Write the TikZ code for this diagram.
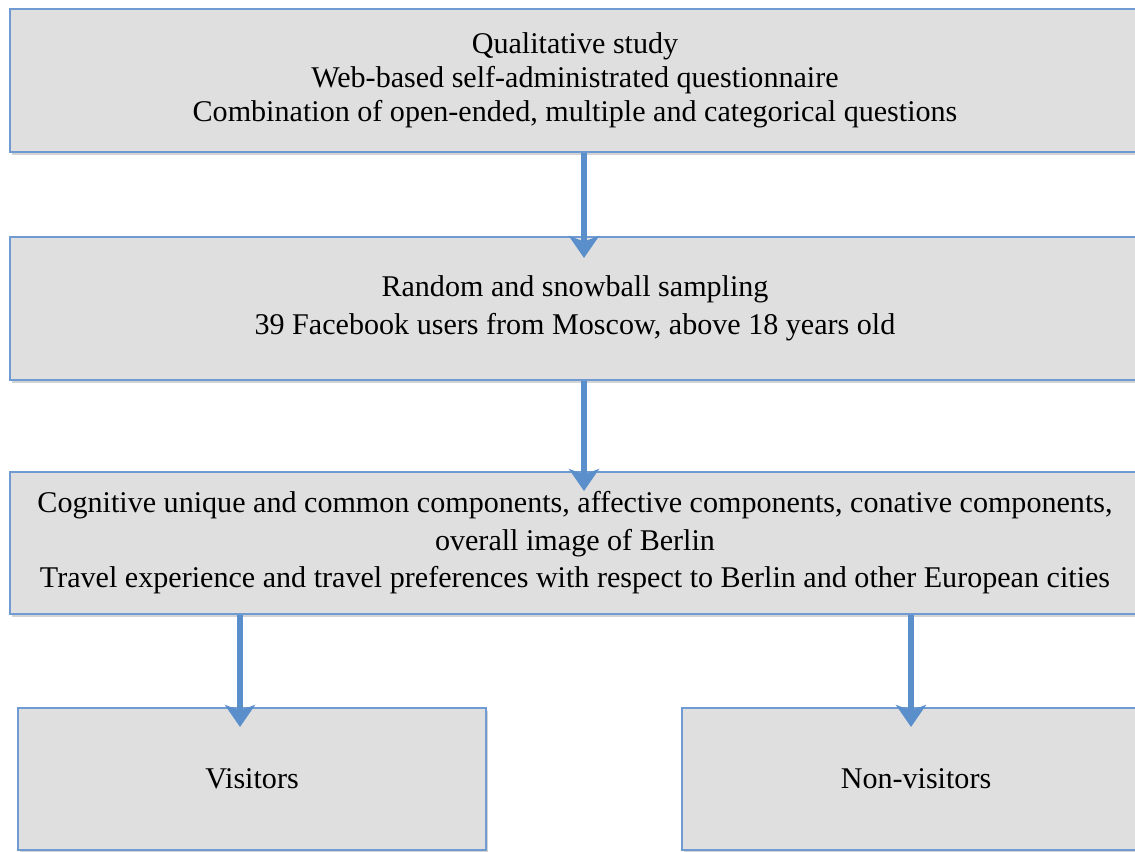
\documentclass[tikz,border=0pt]{standalone}
\usepackage{fontspec}
\setmainfont{Liberation Serif}
\usetikzlibrary{arrows.meta,shadows}
\definecolor{boxfill}{HTML}{DFDFDF}
\definecolor{boxline}{HTML}{6F9BD2}
\definecolor{arrowblue}{HTML}{5B8FCB}
\tikzset{
  flowbox/.style={draw=boxline, line width=1.3pt, fill=boxfill, align=center,
    inner sep=0pt, drop shadow={opacity=0.35, shadow xshift=1.2pt, shadow yshift=-2pt}},
  flowarrow/.style={draw=arrowblue, line width=4.6pt,
    -{Stealth[length=0.55cm, width=0.75cm, inset=0.14cm]}},
  boxtext/.style={font=\fontsize{21.4}{26.6}\selectfont},
  boxtextA/.style={font=\fontsize{21.4}{24.0}\selectfont}
}
\begin{document}
\begin{tikzpicture}[x=0.025cm, y=-0.025cm]
\useasboundingbox (0,0) rectangle (1135,852);
\begin{scope}
\clip (0,0) rectangle (1135,852);
\node[flowbox, boxtextA, minimum width=28.25cm, minimum height=3.575cm] (b1) at (575,80.5)
  {Qualitative study\\Web-based self-administrated questionnaire\\Combination of open-ended, multiple and categorical questions};
\node[flowbox, boxtext, minimum width=28.25cm, minimum height=3.575cm] (b2) at (575,308.5)
  {Random and snowball sampling\\39 Facebook users from Moscow, above 18 years old};
\node[flowbox, boxtext, minimum width=28.25cm, minimum height=3.55cm] (b3) at (575,543)
  {Cognitive unique and common components, affective components, conative components,\\overall image of Berlin\\Travel experience and travel preferences with respect to Berlin and other European cities};
\node[flowbox, boxtext, minimum width=11.7cm, minimum height=3.55cm] (b4) at (252,779) {Visitors};
\node[flowbox, boxtext, minimum width=11.7cm, minimum height=3.55cm] (b5) at (916,779) {Non-visitors};
\coordinate (t1) at (584,258);
\coordinate (t2) at (584,491);
\coordinate (t3) at (240,727);
\coordinate (t4) at (911,727);
\draw[flowarrow] (t1 |- b1.south) -- (t1);
\draw[flowarrow] (t2 |- b2.south) -- (t2);
\draw[flowarrow] (t3 |- b3.south) -- (t3);
\draw[flowarrow] (t4 |- b3.south) -- (t4);
\end{scope}
\end{tikzpicture}
\end{document}
